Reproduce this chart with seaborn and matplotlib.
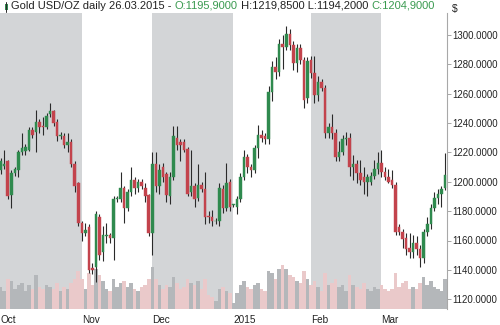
import numpy as np
import pandas as pd
import seaborn as sns
import matplotlib.pyplot as plt
from matplotlib.patches import Rectangle
from matplotlib.lines import Line2D

# daily candles, 01.10.2014 .. 26.03.2015
opens = [1208, 1211, 1214, 1191, 1206, 1208, 1220, 1221, 1222, 1235,
         1234, 1241, 1238, 1237, 1246, 1248, 1241, 1231, 1231, 1225,
         1227, 1212, 1199, 1172, 1165, 1169, 1141, 1142, 1176, 1152,
         1163, 1164, 1162, 1188, 1188, 1196, 1182, 1193, 1201, 1196,
         1200, 1196, 1191, 1165, 1212, 1197, 1210, 1205, 1190, 1203,
         1230, 1227, 1227, 1222, 1193, 1197, 1189, 1198, 1195, 1177,
         1176, 1173, 1173, 1195, 1182, 1200, 1184, 1183, 1188, 1203,
         1217, 1210, 1208, 1223, 1232, 1231, 1229, 1261, 1278, 1275,
         1294, 1292, 1301, 1293, 1281, 1291, 1283, 1257, 1283, 1274,
         1259, 1268, 1264, 1233, 1237, 1233, 1217, 1220, 1229, 1230,
         1210, 1212, 1206, 1203, 1200, 1200, 1204, 1209, 1213, 1207,
         1203, 1201, 1198, 1169, 1166, 1162, 1155, 1152, 1158, 1154,
         1148, 1166, 1171, 1182, 1189, 1192, 1195.9]
highs = [1216, 1222, 1215, 1208, 1210, 1222, 1233, 1226, 1237, 1237,
         1249, 1243, 1244, 1247, 1254, 1249, 1243, 1234, 1233, 1233,
         1229, 1214, 1200, 1173, 1172, 1171, 1145, 1180, 1178, 1170,
         1172, 1165, 1190, 1190, 1207, 1197, 1195, 1210, 1203, 1202,
         1202, 1199, 1192, 1220, 1220, 1212, 1213, 1207, 1207, 1238,
         1238, 1229, 1229, 1224, 1222, 1199, 1212, 1200, 1207, 1180,
         1181, 1175, 1199, 1198, 1213, 1202, 1185, 1190, 1206, 1222,
         1219, 1212, 1225, 1239, 1235, 1233, 1265, 1282, 1285, 1297,
         1300, 1306, 1304, 1296, 1294, 1294, 1285, 1285, 1286, 1286,
         1272, 1270, 1266, 1240, 1246, 1236, 1228, 1232, 1234, 1233,
         1218, 1215, 1215, 1210, 1205, 1207, 1215, 1220, 1222, 1210,
         1209, 1208, 1200, 1171, 1168, 1165, 1165, 1164, 1163, 1157,
         1168, 1176, 1185, 1193, 1195, 1197, 1219.85]
lows = [1205, 1209, 1188, 1182, 1204, 1203, 1218, 1218, 1221, 1230,
        1220, 1233, 1232, 1236, 1244, 1238, 1228, 1229, 1223, 1220,
        1210, 1193, 1170, 1160, 1163, 1138, 1137, 1132, 1147, 1146,
        1158, 1158, 1147, 1186, 1186, 1172, 1180, 1190, 1192, 1193,
        1195, 1186, 1163, 1150, 1193, 1192, 1200, 1186, 1185, 1201,
        1222, 1214, 1220, 1190, 1190, 1183, 1187, 1193, 1171, 1172,
        1170, 1171, 1170, 1179, 1180, 1180, 1183, 1178, 1186, 1201,
        1206, 1203, 1206, 1216, 1227, 1226, 1226, 1255, 1270, 1272,
        1277, 1290, 1290, 1276, 1275, 1280, 1250, 1254, 1271, 1254,
        1255, 1262, 1230, 1230, 1229, 1214, 1214, 1218, 1225, 1204,
        1201, 1199, 1198, 1192, 1190, 1198, 1202, 1205, 1203, 1201,
        1199, 1196, 1164, 1164, 1155, 1150, 1148, 1148, 1150, 1142,
        1145, 1163, 1168, 1180, 1185, 1183, 1194.2]
closes = [1214, 1212, 1190, 1206, 1209, 1220, 1223, 1224, 1235, 1232,
          1241, 1237, 1237, 1245, 1248, 1240, 1231, 1232, 1225, 1227,
          1212, 1197, 1172, 1165, 1167, 1140, 1140, 1178, 1150, 1164,
          1164, 1162, 1188, 1189, 1196, 1182, 1193, 1201, 1196, 1200,
          1197, 1190, 1165, 1212, 1197, 1208, 1203, 1191, 1203, 1231,
          1225, 1225, 1222, 1192, 1197, 1188, 1198, 1195, 1176, 1176,
          1173, 1173, 1196, 1182, 1199, 1183, 1184, 1188, 1203, 1217,
          1210, 1208, 1223, 1232, 1230, 1229, 1261, 1278, 1275, 1294,
          1292, 1301, 1293, 1281, 1291, 1283, 1256, 1282, 1274, 1259,
          1268, 1264, 1233, 1237, 1233, 1217, 1220, 1229, 1230, 1210,
          1212, 1206, 1201, 1200, 1203, 1204, 1209, 1213, 1207, 1203,
          1200, 1198, 1166, 1166, 1161, 1154, 1152, 1158, 1154, 1148,
          1166, 1171, 1182, 1189, 1192, 1195, 1204.9]
volumes = [22, 18, 30, 28, 20, 24, 26, 18, 24, 20,
           34, 22, 20, 24, 22, 20, 26, 18, 22, 20,
           26, 30, 38, 30, 20, 36, 24, 40, 34, 28,
           20, 18, 30, 22, 26, 28, 22, 26, 20, 18,
           22, 24, 30, 42, 30, 24, 20, 24, 22, 32,
           26, 20, 22, 30, 26, 24, 28, 20, 30, 14,
           12, 8, 20, 22, 18, 16, 6, 16, 24, 28,
           22, 20, 24, 26, 20, 18, 38, 36, 30, 40,
           44, 40, 34, 32, 28, 26, 38, 30, 24, 28,
           22, 18, 36, 24, 26, 30, 22, 24, 18, 34,
           24, 22, 20, 26, 20, 18, 22, 20, 24, 20,
           18, 20, 36, 22, 26, 28, 20, 22, 20, 26,
           32, 24, 28, 22, 20, 18, 30]

month_labels = ["Oct", "Nov", "Dec", "2015", "Feb", "Mar"]
month_starts = [0, 23, 43, 66, 88, 108]
shaded_months = [0, 2, 4]

df = pd.DataFrame({"open": opens, "high": highs, "low": lows,
                   "close": closes, "volume": volumes})
df["idx"] = np.arange(len(df))
df["dir"] = np.where(df["close"] >= df["open"], "up", "down")

sns.set_theme(style="white")
plt.rcParams["font.family"] = ["Liberation Sans", "DejaVu Sans"]

GREEN = "#2f8a4e"
RED = "#c3434c"
WICK = "#2a2a2a"
BAND = "#d3d5d7"
TXT = "#222222"

fig = plt.figure(figsize=(5, 3.25), dpi=100)
rect = [0.0, 0.05, 0.894, 0.91]
n = len(df)
xmin, xmax = -0.2, n - 0.4

# background axis: month shading + volume
vax = fig.add_axes(rect)
edges = month_starts + [xmax]
for m in shaded_months:
    lo = edges[m] if m > 0 else xmin
    vax.axvspan(lo, edges[m + 1], color=BAND, lw=0, zorder=0)
sns.barplot(data=df, x="idx", y="volume", hue="dir", native_scale=True,
            dodge=False, palette={"up": "#b3b7bb", "down": "#f0c3c5"},
            width=1.0, legend=False, ax=vax, zorder=1, linewidth=0)
vax.set_ylim(0, 300)
vax.set_xlim(xmin, xmax)
vax.axis("off")

# price axis on top
ax = fig.add_axes(rect)
ax.patch.set_visible(False)
colors = np.where(df["dir"] == "up", GREEN, RED)
ax.vlines(df["idx"], df["low"], df["high"], color=WICK, lw=0.8, zorder=2)
body_lo = np.minimum(df["open"], df["close"])
body_h = np.maximum(np.abs(df["close"] - df["open"]), 0.6)
ax.bar(df["idx"], body_h, bottom=body_lo, width=0.72, color=colors,
       edgecolor=colors, linewidth=0.3, zorder=3)

ax.set_xlim(xmin, xmax)
ax.set_ylim(1113.5, 1315)

ax.yaxis.tick_right()
ax.set_yticks(np.arange(1120, 1301, 20))
ax.set_yticklabels([f"{v:.4f}" for v in np.arange(1120, 1301, 20)])
ax.tick_params(axis="y", right=True, length=3, width=0.6, color="#999999",
               labelsize=6.9, labelcolor=TXT, pad=1)
ax.set_xticks(month_starts)
ax.set_xticklabels(month_labels, ha="left")
ax.tick_params(axis="x", bottom=False, labelsize=7.2, labelcolor=TXT, pad=-1.5)
for s in ["top", "left", "bottom"]:
    ax.spines[s].set_visible(False)
ax.spines["right"].set_color("#a8a8a8")
ax.spines["right"].set_linewidth(0.8)

fig.text(0.904, 0.972, "$", fontsize=7.5, color=TXT, va="center")

# title line with coloured pieces
parts = [("Gold USD/OZ daily 26.03.2015 - ", TXT),
         ("O:1195,9000", "#3a9a50"),
         (" H:1219,8500 L:1194,2000 ", TXT),
         ("C:1204,9000", "#3a9a50")]
fig.canvas.draw()
renderer = fig.canvas.get_renderer()
x = 11 / 500
for txt, col in parts:
    t = fig.text(x, 0.982, txt, fontsize=8.0, color=col, va="center")
    bb = t.get_window_extent(renderer=renderer)
    x += bb.width / 500

# little candle icon
fig.add_artist(Line2D([6 / 500, 6 / 500], [1 - 12 / 325, 1 - 2 / 325],
                      color=WICK, lw=0.7))
fig.add_artist(Rectangle((4.5 / 500, 1 - 10 / 325), 3 / 500, 6 / 325,
                         color=GREEN, lw=0))

fig.savefig("out.png", dpi=100)
